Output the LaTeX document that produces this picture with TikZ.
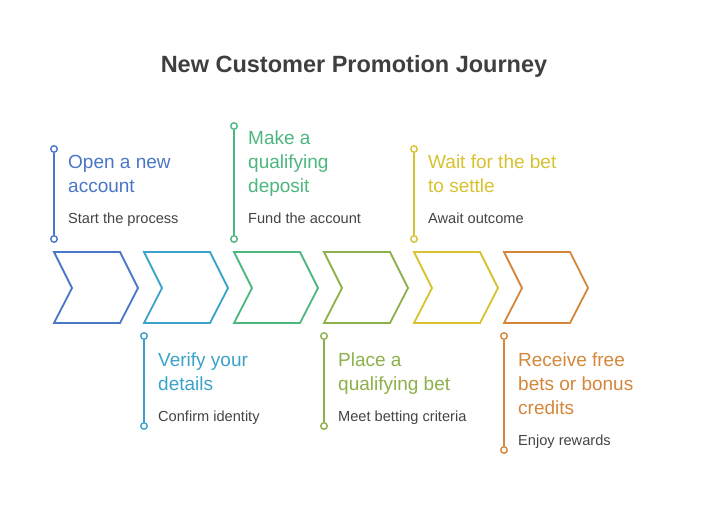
\documentclass[tikz,border=0pt]{standalone}
\usepackage{fontspec}
\setmainfont{Liberation Sans}
\definecolor{cA}{HTML}{4A76C6}
\definecolor{cB}{HTML}{3BA3C9}
\definecolor{cC}{HTML}{4DB77E}
\definecolor{cD}{HTML}{8DB04B}
\definecolor{cE}{HTML}{D8C22F}
\definecolor{cF}{HTML}{D4873B}
\definecolor{txt}{HTML}{444444}
\definecolor{ttl}{HTML}{3F3F3F}
\tikzset{
  chev/.style={line width=1.8pt, line join=miter},
  stem/.style={line width=1.8pt},
  dot/.style={circle, draw, fill=white, line width=1.4pt, inner sep=0pt, minimum size=6.5pt},
  head/.style={anchor=base west, align=left, inner sep=0pt, font=\fontsize{19}{24}\selectfont},
  desc/.style={anchor=base west, inner sep=0pt, text=txt, font=\fontsize{14.6}{17}\selectfont},
}
\newcommand{\chevron}[2]{%
  \draw[chev, #2] (#1,252) -- ++(66,0) -- ++(18,36) -- ++(-18,35) -- ++(-66,0) -- ++(18,-35) -- cycle;}
\begin{document}
\begin{tikzpicture}[x=1pt,y=-1pt]
\useasboundingbox[fill=white] (0,0) rectangle (708,523);
\node[anchor=base, inner sep=0pt, text=ttl, font=\fontsize{23.5}{28}\selectfont\bfseries] (title) at (354,72) {New Customer Promotion Journey};
\chevron{54}{cA}
\chevron{144}{cB}
\chevron{234}{cC}
\chevron{324}{cD}
\chevron{414}{cE}
\chevron{504}{cF}
% step 1
\node[dot, draw=cA] (t1) at (54,149) {};
\node[dot, draw=cA] (b1) at (54,239) {};
\draw[stem, cA] (t1) -- (b1);
\node[head, text=cA] (h1) at (68,192) {Open a new\\account};
\node[desc] (d1) at (68,223) {Start the process};
% step 2
\node[dot, draw=cB] (t2) at (144,336) {};
\node[dot, draw=cB] (b2) at (144,426) {};
\draw[stem, cB] (t2) -- (b2);
\node[head, text=cB] (h2) at (158,390) {Verify your\\details};
\node[desc] (d2) at (158,421) {Confirm identity};
% step 3
\node[dot, draw=cC] (t3) at (234,126) {};
\node[dot, draw=cC] (b3) at (234,239) {};
\draw[stem, cC] (t3) -- (b3);
\node[head, text=cC] (h3) at (248,192) {Make a\\qualifying\\deposit};
\node[desc] (d3) at (248,223) {Fund the account};
% step 4
\node[dot, draw=cD] (t4) at (324,336) {};
\node[dot, draw=cD] (b4) at (324,426) {};
\draw[stem, cD] (t4) -- (b4);
\node[head, text=cD] (h4) at (338,390) {Place a\\qualifying bet};
\node[desc] (d4) at (338,421) {Meet betting criteria};
% step 5
\node[dot, draw=cE] (t5) at (414,149) {};
\node[dot, draw=cE] (b5) at (414,239) {};
\draw[stem, cE] (t5) -- (b5);
\node[head, text=cE] (h5) at (428,192) {Wait for the bet\\to settle};
\node[desc] (d5) at (428,223) {Await outcome};
% step 6
\node[dot, draw=cF] (t6) at (504,336) {};
\node[dot, draw=cF] (b6) at (504,450) {};
\draw[stem, cF] (t6) -- (b6);
\node[head, text=cF] (h6) at (518,414) {Receive free\\bets or bonus\\credits};
\node[desc] (d6) at (518,445) {Enjoy rewards};
\end{tikzpicture}
\end{document}
